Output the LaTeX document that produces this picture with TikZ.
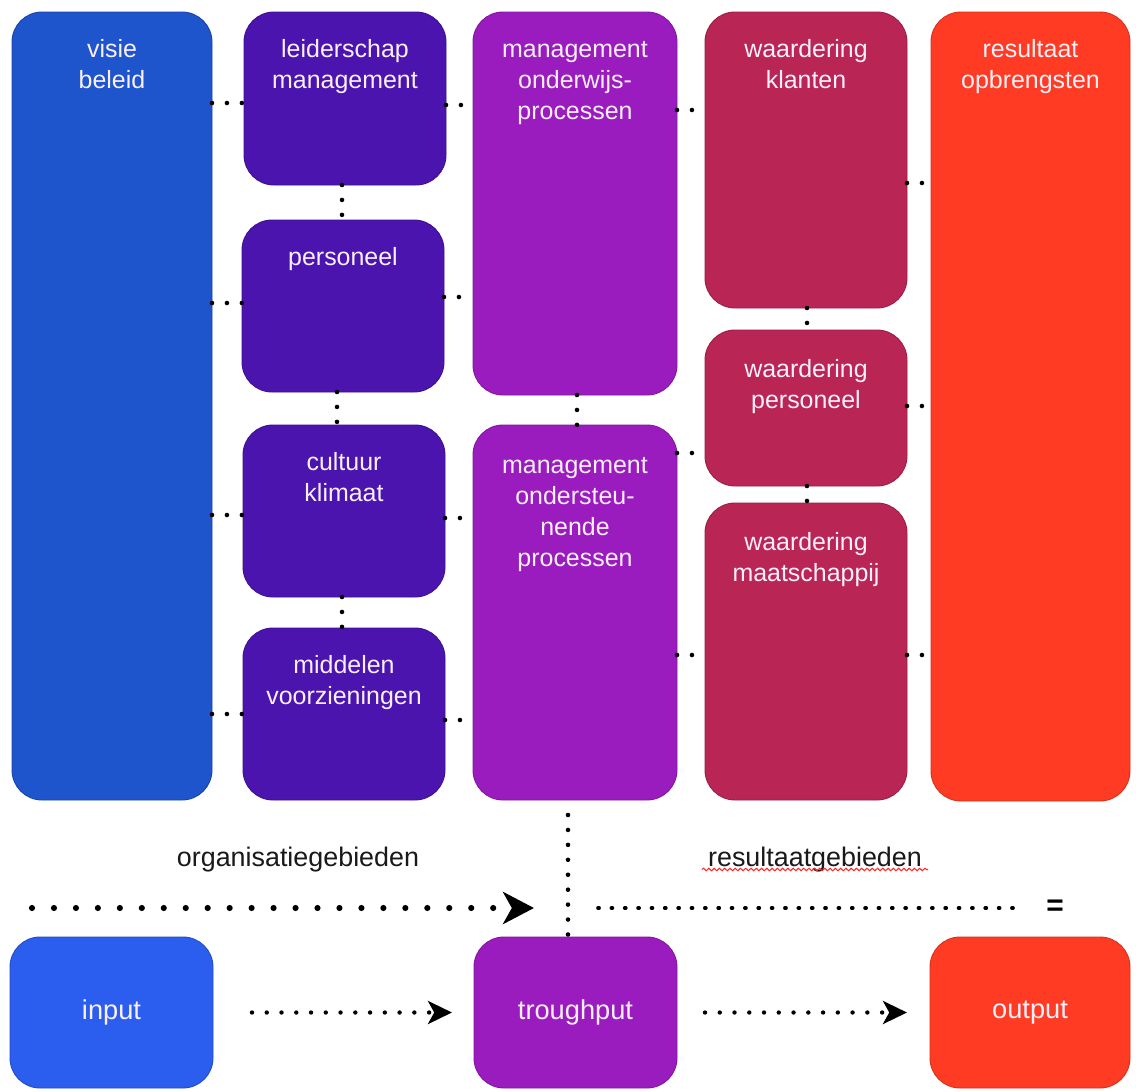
\documentclass[tikz,border=0pt]{standalone}
\usepackage{fontspec}
\setmainfont{Liberation Sans}
\usetikzlibrary{arrows.meta,decorations.pathmorphing}
\definecolor{cblue}{HTML}{1E54CC}
\definecolor{cinput}{HTML}{2B5DEE}
\definecolor{cindigo}{HTML}{4B14AF}
\definecolor{cpurple}{HTML}{9B1CBE}
\definecolor{ccrimson}{HTML}{B92555}
\definecolor{cred}{HTML}{FF3C23}
\definecolor{ctext}{HTML}{FBF0FA}
\def\px{0.02cm}
% #1 extra label shift, #2 name, #3 x1, #4 y1, #5 x2, #6 y2, #7 colour, #8 text
\newcommand\mybox[8][0]{%
  \node[bx,fill=#7,draw=#7!82!black,
        minimum width={(#5-#3)*\px},minimum height={(#6-#4)*\px},
        label={[lbl,yshift=-#1*\px]north:{#8}}]
        (#2) at ({(#3+#5)/2},{(#4+#6)/2}) {};}
\begin{document}
\begin{tikzpicture}[x=0.02cm,y=-0.02cm,
  bx/.style={rectangle,rounded corners=0.6cm,inner sep=0pt,outer sep=0pt,line width=0.5pt},
  lbl/.style={anchor=north,yshift=-27*\px,inner sep=0pt,align=center,text=ctext,
              font=\fontsize{14.2pt}{17.6pt}\selectfont},
  btxt/.style={text=ctext,font=\fontsize{15.5pt}{18pt}\selectfont},
  conn/.style={draw=black,line width=2.6pt,line cap=round,dash pattern=on 0pt off 8.5pt},
  bigdots/.style={draw=black,line width=3.5pt,line cap=round,dash pattern=on 0pt off 12.5pt},
  vdots/.style={draw=black,line width=2.6pt,line cap=round,dash pattern=on 0pt off 8.5pt},
  finedots/.style={draw=black,line width=2.1pt,line cap=round,dash pattern=on 0.6pt off 7pt},
  bdots/.style={draw=black,line width=2.5pt,line cap=round,dash pattern=on 0pt off 8.4pt},
  tip/.style={-{Stealth[length=13.6pt,width=13pt,inset=3.5pt,black]}},
  heading/.style={anchor=base,text=black!90,font=\fontsize{15.3pt}{18pt}\selectfont}]
\useasboundingbox[fill=white] (0,0) rectangle (1136,1092);

% main columns
\mybox{visie}{12}{12}{212}{800}{cblue}{visie\\beleid}
\mybox{leid}{244}{12}{446}{185}{cindigo}{leiderschap\\management}
\mybox{pers}{242}{220}{444}{392}{cindigo}{personeel}
\mybox{cult}{243}{425}{445}{597}{cindigo}{cultuur\\klimaat}
\mybox{midd}{243}{628}{445}{800}{cindigo}{middelen\\voorzieningen}
\mybox[2]{mow}{473}{12}{677}{395}{cpurple}{management\\onderwijs-\\processen}
\mybox[5]{mon}{473}{425}{677}{800}{cpurple}{management\\ondersteu-\\nende\\processen}
\mybox{wkl}{705}{12}{907}{308}{ccrimson}{waardering\\klanten}
\mybox[2]{wpe}{705}{330}{907}{486}{ccrimson}{waardering\\personeel}
\mybox[2]{wma}{705}{503}{907}{800}{ccrimson}{waardering\\maatschappij}
\mybox{res}{931}{12}{1130}{801}{cred}{resultaat\\opbrengsten}

% bottom row
\node[bx,fill=cinput,draw=cinput!82!black,minimum width={203*\px},minimum height={151*\px},btxt]
  (input) at (111.5,1012.5) {input};
\node[bx,fill=cpurple,draw=cpurple!82!black,minimum width={203*\px},minimum height={151*\px},btxt]
  (trough) at (575.5,1012.5) {troughput};
\node[bx,fill=cred,draw=cred!82!black,minimum width={200*\px},minimum height={151*\px},btxt]
  (output) at (1030,1012.5) {output};

% horizontal connectors
\draw[conn] (visie.east |- 0,103) -- (leid.west |- 0,103);
\draw[conn] (leid.east |- 0,105) -- (mow.west |- 0,105);
\draw[conn] (mow.east |- 0,110) -- (wkl.west |- 0,110);
\draw[conn] (wkl.east |- 0,183) -- (res.west |- 0,183);
\draw[conn] (visie.east |- 0,303) -- (pers.west |- 0,303);
\draw[conn] (pers.east |- 0,297) -- (mow.west |- 0,297);
\draw[conn] (visie.east |- 0,515) -- (cult.west |- 0,515);
\draw[conn] (cult.east |- 0,518) -- (mon.west |- 0,518);
\draw[conn] (visie.east |- 0,714) -- (midd.west |- 0,714);
\draw[conn] (midd.east |- 0,720) -- (mon.west |- 0,720);
\draw[conn] (mon.east |- 0,453) -- (wpe.west |- 0,453);
\draw[conn] (wpe.east |- 0,406) -- (res.west |- 0,406);
\draw[conn] (mon.east |- 0,655) -- (wma.west |- 0,655);
\draw[conn] (wma.east |- 0,655) -- (res.west |- 0,655);

% vertical connectors
\draw[conn] (leid.south -| 342,0) -- (pers.north -| 342,0);
\draw[conn] (pers.south -| 337,0) -- (cult.north -| 337,0);
\draw[conn] (cult.south -| 342,0) -- (midd.north -| 342,0);
\draw[conn] (mow.south -| 577,0) -- (mon.north -| 577,0);
\draw[conn] (wkl.south -| 807,0) -- (wpe.north -| 807,0);
\draw[conn] (wpe.south -| 807,0) -- (wma.north -| 807,0);

% headings
\node[heading] (lorg) at (298,866) {organisatiegebieden};
\node[heading] (lres) at (815,866) {resultaatgebieden};
\draw[red!85,line width=0.6pt,decorate,decoration={snake,amplitude=0.7pt,segment length=3pt}]
  ([yshift=-3.5*\px]lres.base west) -- ([yshift=-3.5*\px]lres.base east);

% divider line
\coordinate (vt) at (568,815);
\draw[vdots] (vt) -- (vt |- trough.north);

% top arrow and dotted line
\coordinate (ta) at (32,908);
\coordinate (tb) at (534,908);
\draw[bigdots,-{Stealth[length=17.6pt,width=18.2pt,inset=5pt]}] (ta) -- (tb);
\coordinate (ra) at (598,908);
\coordinate (rb) at (1022,908);
\draw[finedots] (ra) -- (rb);
\node[font=\bfseries\fontsize{17pt}{18pt}\selectfont,inner sep=0pt] (eq) at (1055,908) {=};

% bottom arrows
\draw[bdots,tip] ([xshift=39*\px]input.east) -- ([xshift=-22*\px]trough.west);
\draw[bdots,tip] ([xshift=28*\px]trough.east) -- ([xshift=-23*\px]output.west);
\end{tikzpicture}
\end{document}
